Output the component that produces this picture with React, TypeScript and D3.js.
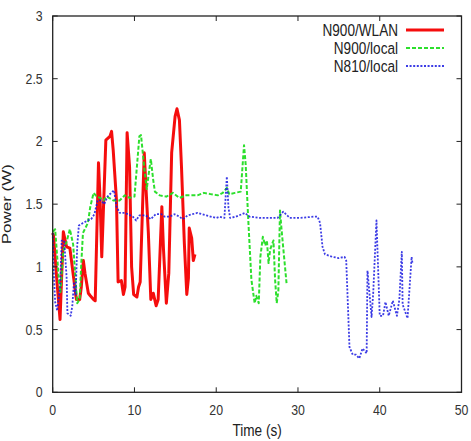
import React from "react";
import * as d3 from "d3";

// N900/WLAN (red, solid)
const wlanTime = [0, 0.1, 0.5, 0.9, 1.3, 1.7, 2.1, 2.7, 2.9, 3.3, 3.5, 3.75, 3.95, 4.36, 4.6, 5.0, 5.2, 5.6, 5.8, 6.0, 6.2, 6.5, 7.0, 7.2, 7.4, 7.8, 8.0, 8.4, 8.65, 8.85, 9.1, 9.4, 9.65, 9.9, 10.3, 10.5, 10.7, 11.2, 11.4, 11.7, 12.0, 12.3, 12.65, 12.9, 13.35, 13.55, 13.9, 14.2, 14.55, 14.97, 15.2, 15.5, 15.75, 16.1, 16.4, 16.6, 16.7, 17.0, 17.2, 17.4];
const wlanPower = [1.27, 1.25, 0.9, 0.58, 1.28, 1.16, 1.15, 0.84, 0.74, 0.74, 0.84, 1.05, 0.95, 0.79, 0.77, 0.74, 0.73, 1.83, 1.53, 1.08, 1.45, 2.01, 2.04, 2.08, 1.93, 1.53, 0.88, 0.89, 0.78, 0.84, 2.07, 1.8, 1.0, 0.78, 0.76, 0.84, 0.88, 1.91, 1.64, 1.27, 0.74, 0.79, 0.69, 0.74, 1.48, 1.14, 0.71, 0.95, 1.91, 2.2, 2.26, 2.17, 1.8, 1.19, 0.78, 0.91, 1.31, 1.23, 1.05, 1.1];

// N900/local (green, dashed)
const n900Time = [0, 0.3, 0.8, 0.95, 1.3, 1.7, 2.1, 2.5, 3.0, 3.3, 3.5, 3.7, 4.3, 4.6, 5.0, 5.4, 5.8, 6.2, 6.6, 7.4, 8.2, 8.8, 9.4, 10.0, 10.3, 10.6, 10.8, 11.2, 11.5, 11.7, 12.0, 12.3, 12.5, 13.1, 13.9, 14.7, 15.5, 16.3, 17.1, 17.7, 18.5, 19.3, 20.2, 20.8, 21.3, 21.6, 22.3, 23.0, 23.4, 23.6, 23.9, 24.3, 24.7, 24.9, 25.2, 25.4, 25.7, 26.0, 26.2, 26.4, 26.6, 27.0, 27.2, 27.4, 27.6, 27.8, 28.0, 28.3, 28.6];
const n900Power = [1.28, 1.3, 0.86, 0.8, 1.13, 1.2, 1.3, 1.18, 0.71, 0.74, 1.03, 1.27, 1.35, 1.48, 1.59, 1.56, 1.55, 1.53, 1.56, 1.53, 1.53, 1.57, 1.55, 1.56, 1.8, 2.04, 2.05, 1.79, 1.62, 1.72, 1.86, 1.69, 1.6, 1.57, 1.56, 1.59, 1.55, 1.57, 1.57, 1.57, 1.59, 1.58, 1.57, 1.59, 1.63, 1.58, 1.59, 1.6, 1.97, 1.82, 1.4, 0.9, 0.71, 0.77, 0.71, 1.08, 1.24, 1.17, 1.21, 1.03, 1.14, 1.21, 0.9, 0.71, 0.81, 1.45, 1.29, 1.08, 0.87];

// N810/local (blue, dotted)
const n810Time = [0, 0.1, 0.3, 0.55, 0.9, 1.1, 1.4, 1.7, 1.8, 2.2, 2.4, 2.6, 2.8, 3.0, 3.2, 3.7, 4.3, 4.7, 5.1, 5.5, 5.9, 6.3, 6.7, 7.3, 7.5, 7.8, 8.2, 8.8, 9.2, 9.8, 10.2, 10.6, 11.4, 12.0, 12.6, 13.3, 13.7, 14.3, 14.9, 15.5, 15.9, 16.5, 17.1, 17.7, 18.8, 20.0, 20.4, 21.0, 21.3, 21.5, 21.7, 22.4, 23.5, 24.1, 25.3, 26.5, 27.5, 28.2, 29.0, 30.2, 31.9, 32.4, 32.7, 33.0, 33.3, 34.2, 35.0, 35.7, 35.9, 36.3, 36.7, 37.1, 37.5, 37.9, 38.4, 38.5, 39.0, 39.2, 39.6, 40.0, 40.4, 40.7, 41.1, 41.6, 42.1, 42.4, 42.7, 42.8, 43.4, 43.9, 44.0];
const n810Power = [1.27, 1.0, 0.72, 0.65, 0.84, 1.21, 1.21, 0.92, 0.63, 0.61, 0.69, 0.88, 0.77, 1.17, 1.33, 1.35, 1.37, 1.38, 1.42, 1.53, 1.53, 1.5, 1.56, 1.6, 1.61, 1.48, 1.43, 1.43, 1.42, 1.4, 1.37, 1.41, 1.41, 1.38, 1.42, 1.42, 1.4, 1.4, 1.42, 1.4, 1.38, 1.41, 1.42, 1.43, 1.41, 1.39, 1.4, 1.39, 1.72, 1.47, 1.39, 1.4, 1.43, 1.4, 1.39, 1.39, 1.39, 1.44, 1.39, 1.39, 1.4, 1.4, 1.35, 1.16, 1.1, 1.08, 1.07, 1.08, 1.05, 0.36, 0.3, 0.3, 0.27, 0.35, 0.31, 0.97, 0.6, 0.79, 1.37, 0.61, 0.61, 0.72, 0.61, 0.73, 0.61, 0.74, 1.12, 0.7, 0.59, 1.08, 1.03];

const xTicks = [0, 10, 20, 30, 40, 50];
const yTicks = [0, 0.5, 1, 1.5, 2, 2.5, 3];
const seriesNames = ["N900/WLAN", "N900/local", "N810/local"];

const W = 471;
const H = 441;
const margin = { left: 52.7, right: 9.5, top: 16, bottom: 48.7 };
const font = "'Liberation Sans', Arial, sans-serif";

const App = () => {
  const x = d3.scaleLinear().domain([0, 50]).range([margin.left, W - margin.right]);
  const y = d3.scaleLinear().domain([0, 3]).range([H - margin.bottom, margin.top]);

  const line = d3
    .line<[number, number]>()
    .x((d) => x(d[0]))
    .y((d) => y(d[1]));

  const series = [
    { name: seriesNames[0], t: wlanTime, p: wlanPower, color: "#f40000", width: 3, dash: undefined, opacity: 0.95 },
    { name: seriesNames[1], t: n900Time, p: n900Power, color: "#22dd22", width: 2, dash: "4 2", opacity: 0.95 },
    { name: seriesNames[2], t: n810Time, p: n810Power, color: "#1a1ae0", width: 1.8, dash: "2 1.6", opacity: 0.85 },
  ];

  const x0 = x(0), x1 = x(50), y0 = y(0), y1 = y(3);

  return (
    <svg width={W} height={H} style={{ position: "absolute", left: 0, top: 0, background: "#fff" }}>
      {/* plot lines */}
      {series.map((s) => (
        <path
          key={s.name}
          d={line(s.t.map((t, i) => [t, s.p[i]]) as [number, number][]) || ""}
          fill="none"
          stroke={s.color}
          strokeWidth={s.width}
          strokeDasharray={s.dash}
          strokeOpacity={s.opacity}
          strokeLinejoin="round"
        />
      ))}

      {/* frame */}
      <rect x={x0} y={y1} width={x1 - x0} height={y0 - y1} fill="none" stroke="#222" strokeWidth={1.3} />

      {/* x ticks, mirrored */}
      {xTicks.map((t) => (
        <g key={"x" + t}>
          <line x1={x(t)} x2={x(t)} y1={y0} y2={y0 - 5} stroke="#222" />
          <line x1={x(t)} x2={x(t)} y1={y1} y2={y1 + 5} stroke="#222" />
          <text
            transform={`translate(${x(t)},${y0 + 23}) scale(0.88,1)`}
            textAnchor="middle"
            fontFamily={font}
            fontSize={14}
            fill="#333"
          >
            {t}
          </text>
        </g>
      ))}

      {/* y ticks, mirrored */}
      {yTicks.map((t) => (
        <g key={"y" + t}>
          <line x1={x0} x2={x0 + 5} y1={y(t)} y2={y(t)} stroke="#222" />
          <line x1={x1} x2={x1 - 5} y1={y(t)} y2={y(t)} stroke="#222" />
          <text
            transform={`translate(${x0 - 10},${y(t) + 5}) scale(0.88,1)`}
            textAnchor="end"
            fontFamily={font}
            fontSize={14}
            fill="#333"
          >
            {t}
          </text>
        </g>
      ))}

      {/* axis titles */}
      <text
        transform={`translate(${(x0 + x1) / 2},${H - 5}) scale(0.8,1)`}
        textAnchor="middle"
        fontFamily={font}
        fontSize={17}
        fill="#222"
      >
        Time (s)
      </text>
      <text
        transform={`translate(11,${(y0 + y1) / 2}) scale(0.8,1) rotate(-90)`}
        textAnchor="middle"
        fontFamily={font}
        fontSize={17}
        fill="#222"
      >
        Power (W)
      </text>

      {/* legend */}
      {series.map((s, i) => {
        const ly = 30 + i * 18;
        return (
          <g key={"leg" + s.name}>
            <text
              transform={`translate(398,${ly + 6}) scale(0.8,1)`}
              textAnchor="end"
              fontFamily={font}
              fontSize={17}
              fill="#222"
            >
              {s.name}
            </text>
            <line
              x1={406}
              x2={444}
              y1={ly}
              y2={ly}
              stroke={s.color}
              strokeWidth={s.width}
              strokeDasharray={s.dash}
              strokeOpacity={s.opacity}
            />
          </g>
        );
      })}
    </svg>
  );
};

export default App;
